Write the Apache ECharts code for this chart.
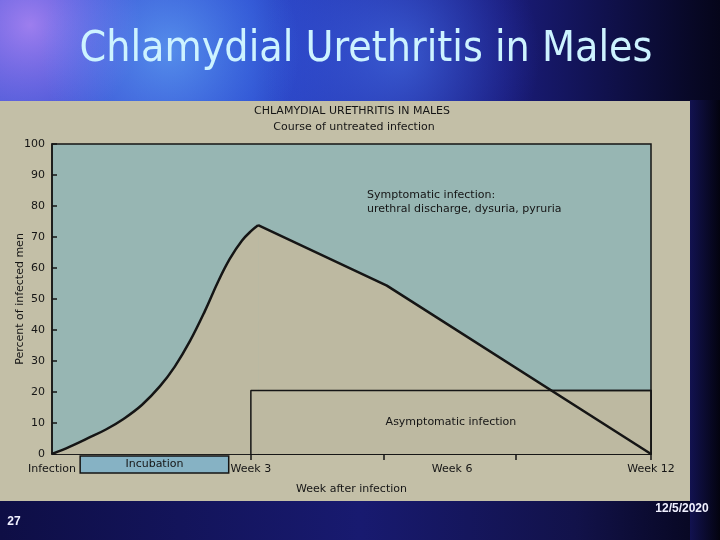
<!DOCTYPE html>
<html>
<head>
<meta charset="utf-8">
<script src="https://cdn.jsdelivr.net/npm/echarts@6/dist/echarts.min.js"></script>
<style>html,body{margin:0;padding:0;background:#0a0a30;}#chart{width:720px;height:540px;}</style>
</head>
<body>
<div id="chart"></div>
<script>
// ---- data (x = position along the axis, 0 = infection, 100 = week 12) ----
const xLabelPos = [0, 33.2, 66.8, 100];
const xLabels = ['Infection', 'Week 3', 'Week 6', 'Week 12'];
const xTickPos = [33.2, 55.4, 77.5, 100];
const risingX = [0, 3.0, 6.0, 9.0, 12.0, 15.0, 18.0, 20.5, 23.0, 25.5, 27.7, 29.7, 31.7, 33.4, 34.4];
const risingY = [0, 2.4, 5.1, 7.9, 11.4, 15.8, 21.8, 28.2, 36.3, 46.0, 55.5, 63.0, 68.8, 72.2, 73.8];
const fallingX = [34.4, 55.9, 100];
const fallingY = [73.8, 54.3, 0];
const asympStart = 33.2, asympEnd = 100, asympLevel = 20.5;
const incubStart = 4.7, incubEnd = 29.5;

const rising = risingX.map((x, i) => [x, risingY[i]]);
const falling = fallingX.map((x, i) => [x, fallingY[i]]);
const asymp = [[asympStart, 0], [asympStart, asympLevel], [asympEnd, asympLevel], [asympEnd, 0]];

const BEIGE = '#c3bfa7', FILL = '#bdb9a1', BLUE = '#97b6b3', INK = '#151515';
const FONT = 'DejaVu Sans';

const chart = echarts.init(document.getElementById('chart'));
chart.setOption({
  animation: false,
  backgroundColor: new echarts.graphic.LinearGradient(0, 0, 1, 0, [
    { offset: 0, color: '#4a5cd6' }, { offset: 0.35, color: '#2e4dd0' },
    { offset: 0.7, color: '#1a1c7a' }, { offset: 1, color: '#05051a' }
  ]),
  graphic: [
    { type: 'circle', z: -30, shape: { cx: 30, cy: 25, r: 110 }, style: { fill: new echarts.graphic.RadialGradient(0.5, 0.5, 0.5, [{ offset: 0, color: 'rgba(215,150,255,0.6)' }, { offset: 1, color: 'rgba(180,120,255,0)' }]) } },
    { type: 'circle', z: -30, shape: { cx: 170, cy: 50, r: 130 }, style: { fill: new echarts.graphic.RadialGradient(0.5, 0.5, 0.5, [{ offset: 0, color: 'rgba(110,190,255,0.55)' }, { offset: 1, color: 'rgba(80,160,255,0)' }]) } },
    { type: 'circle', z: -30, shape: { cx: 400, cy: 55, r: 140 }, style: { fill: new echarts.graphic.RadialGradient(0.5, 0.5, 0.5, [{ offset: 0, color: 'rgba(80,130,255,0.5)' }, { offset: 1, color: 'rgba(60,90,255,0)' }]) } },
    { type: 'rect', z: -20, shape: { x: 0, y: 500, width: 720, height: 40 }, style: { fill: new echarts.graphic.LinearGradient(0, 0, 1, 0, [{ offset: 0, color: '#0e0e45' }, { offset: 0.5, color: '#181a70' }, { offset: 0.8, color: '#12124a' }, { offset: 1, color: '#05051a' }]) } },
    { type: 'rect', z: -20, shape: { x: 690, y: 100, width: 30, height: 440 }, style: { fill: new echarts.graphic.LinearGradient(0, 0, 1, 0, [{ offset: 0, color: '#121250' }, { offset: 1, color: '#03030f' }]) } },
    { type: 'rect', z: -10, shape: { x: 0, y: 101, width: 690, height: 400 }, style: { fill: BEIGE } },
    { type: 'text', z: 50, x: 366, y: 50, style: { text: 'Chlamydial Urethritis in Males', font: '42.5px "DejaVu Sans Condensed"', fill: '#cdf3ff', align: 'center', verticalAlign: 'middle', shadowColor: 'rgba(0,0,40,0.85)', shadowOffsetX: 2, shadowOffsetY: 2, shadowBlur: 2 } },
    { type: 'text', z: 50, x: 352, y: 111, style: { text: 'CHLAMYDIAL URETHRITIS IN MALES', font: '11px "' + FONT + '"', fill: INK, align: 'center', verticalAlign: 'middle' } },
    { type: 'text', z: 50, x: 354, y: 127, style: { text: 'Course of untreated infection', font: '11px "' + FONT + '"', fill: INK, align: 'center', verticalAlign: 'middle' } },
    { type: 'text', z: 50, x: 367, y: 195, style: { text: 'Symptomatic infection:', font: '11px "' + FONT + '"', fill: INK, align: 'left', verticalAlign: 'middle' } },
    { type: 'text', z: 50, x: 367, y: 209, style: { text: 'urethral discharge, dysuria, pyruria', font: '11px "' + FONT + '"', fill: INK, align: 'left', verticalAlign: 'middle' } },
    { type: 'text', z: 50, x: 14, y: 522, style: { text: '27', font: 'bold 12px "Liberation Sans"', fill: '#f0f0ff', align: 'center', verticalAlign: 'middle' } },
    { type: 'text', z: 50, x: 682, y: 509, style: { text: '12/5/2020', font: 'bold 12px "Liberation Sans"', fill: '#f0f0ff', align: 'center', verticalAlign: 'middle' } }
  ],
  grid: [
    { left: 52, right: 69, top: 144, bottom: 86, show: true, backgroundColor: BLUE, borderColor: INK, borderWidth: 1.5, outerBoundsMode: 'none', containLabel: false },
    { left: 52, right: 69, top: 456, height: 17, outerBoundsMode: 'none', containLabel: false }
  ],
  xAxis: [
    {
      type: 'value', gridIndex: 0, min: 0, max: 100,
      axisLine: { show: true, lineStyle: { color: INK, width: 1.5 } },
      axisTick: { show: true, customValues: xTickPos, length: 6, lineStyle: { color: INK, width: 1.5 } },
      axisLabel: { customValues: xLabelPos, formatter: v => xLabels[xLabelPos.indexOf(v)] || '', color: INK, fontFamily: FONT, fontSize: 11, margin: 10 },
      splitLine: { show: false },
      name: 'Week after infection', nameLocation: 'middle', nameGap: 30, nameMoveOverlap: false,
      nameTextStyle: { color: INK, fontFamily: FONT, fontSize: 11 }
    },
    { type: 'value', gridIndex: 1, min: 0, max: 100, show: false }
  ],
  yAxis: [
    {
      type: 'value', gridIndex: 0, min: 0, max: 100, interval: 10,
      axisLine: { show: true, lineStyle: { color: INK, width: 1.5 } },
      axisTick: { show: true, inside: true, length: 5, lineStyle: { color: INK, width: 1.5 } },
      axisLabel: { color: INK, fontFamily: FONT, fontSize: 11, margin: 7 },
      splitLine: { show: false },
      name: 'Percent of infected men', nameLocation: 'middle', nameGap: 26, nameRotate: 90, nameMoveOverlap: false,
      nameTextStyle: { color: INK, fontFamily: FONT, fontSize: 11 }
    },
    { type: 'value', gridIndex: 1, min: 0, max: 1, show: false }
  ],
  series: [
    { name: 'rise-area', type: 'line', data: rising, smooth: 0.4, showSymbol: false, lineStyle: { width: 0 }, areaStyle: { color: FILL, opacity: 1 }, z: 1 },
    { name: 'fall-area', type: 'line', data: falling, showSymbol: false, lineStyle: { width: 0 }, areaStyle: { color: FILL, opacity: 1 }, z: 1 },
    {
      name: 'Asymptomatic infection', type: 'line', data: asymp, showSymbol: false,
      lineStyle: { color: INK, width: 1.5 }, z: 2,
      markArea: { silent: true, itemStyle: { color: FILL, borderColor: INK, borderWidth: 1.5 },
        label: { show: true, position: 'inside', color: INK, fontFamily: FONT, fontSize: 11 },
        data: [[{ name: 'Asymptomatic infection', xAxis: asympStart, yAxis: 0 }, { xAxis: asympEnd, yAxis: asympLevel }]] }
    },
    { name: 'rise-line', type: 'line', data: rising, smooth: 0.4, showSymbol: false, lineStyle: { color: INK, width: 2.5 }, z: 4 },
    { name: 'fall-line', type: 'line', data: falling, showSymbol: false, lineStyle: { color: INK, width: 2.5 }, z: 4 },
    {
      name: 'Incubation', type: 'line', xAxisIndex: 1, yAxisIndex: 1, data: [[incubStart, 0.5]], showSymbol: false, lineStyle: { width: 0 },
      markArea: { silent: true, itemStyle: { color: '#86b2c4', borderColor: INK, borderWidth: 1.5 },
        label: { show: true, position: 'inside', color: INK, fontFamily: FONT, fontSize: 11 },
        data: [[{ name: 'Incubation', xAxis: incubStart, yAxis: 0 }, { xAxis: incubEnd, yAxis: 1 }]] }
    }
  ]
});
</script>
</body>
</html>
